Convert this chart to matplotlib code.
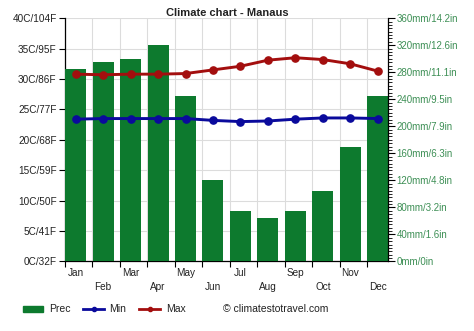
import numpy as np
import matplotlib
matplotlib.use("Agg")
import matplotlib.pyplot as plt
from matplotlib.patches import Rectangle
from matplotlib.lines import Line2D

plt.rcParams['font.family'] = ['Liberation Sans', 'DejaVu Sans']

# Monthly climate data for Manaus
months = ["Jan", "Feb", "Mar", "Apr", "May", "Jun",
          "Jul", "Aug", "Sep", "Oct", "Nov", "Dec"]
prec_mm = [285, 295, 300, 320, 245, 120, 75, 65, 75, 105, 170, 245]
temp_min = [23.4, 23.5, 23.5, 23.5, 23.5, 23.2, 23.0, 23.1, 23.4, 23.6, 23.6, 23.5]
temp_max = [30.8, 30.7, 30.8, 30.8, 30.9, 31.5, 32.1, 33.1, 33.5, 33.2, 32.5, 31.3]

temp_ticks = [0, 5, 10, 15, 20, 25, 30, 35, 40]
temp_labels = ["0C/32F", "5C/41F", "10C/50F", "15C/59F", "20C/68F",
               "25C/77F", "30C/86F", "35C/95F", "40C/104F"]
prec_ticks = [0, 40, 80, 120, 160, 200, 240, 280, 320, 360]
prec_labels = ["0mm/0in", "40mm/1.6in", "80mm/3.2in", "120mm/4.8in",
               "160mm/6.3in", "200mm/7.9in", "240mm/9.5in", "280mm/11.1in",
               "320mm/12.6in", "360mm/14.2in"]

GREEN = "#0d7a2e"
RED = "#a30e0e"
BLUE = "#0a0a9c"
LABEL_GREEN = "#3d8f55"
TEXT = "#222222"
GRID = "#dcdcdc"

fig = plt.figure(figsize=(4.74, 3.31), dpi=100)
rect = [0.137, 0.21, 0.682, 0.735]

x = np.arange(len(months))
x_lo, x_hi = -0.39, 11.38
bounds = np.arange(12) - 0.39

# Temperature axis (left) with the grid
ax_t = fig.add_axes(rect)
ax_t.set_xlim(x_lo, x_hi)
ax_t.set_ylim(0, 40)
ax_t.set_yticks(temp_ticks)
ax_t.set_yticklabels(temp_labels, fontsize=7.2, color=TEXT)
ax_t.set_xticks(bounds)
ax_t.set_xticklabels([])
ax_t.grid(True, color=GRID, linewidth=0.8)
ax_t.set_axisbelow(True)
ax_t.tick_params(axis='y', length=4, width=0.8, pad=2, colors='black', labelcolor=TEXT)
ax_t.tick_params(axis='x', length=4, width=0.8, direction='out')
ax_t.spines["top"].set_visible(False)
ax_t.spines["right"].set_visible(False)
ax_t.spines["left"].set_linewidth(0.9)
ax_t.spines["bottom"].set_linewidth(0.9)

# Month labels on two alternating rows
for i, m in enumerate(months):
    y_off = -0.047 if i % 2 == 0 else -0.105
    ax_t.text(x[i], y_off, m, transform=ax_t.get_xaxis_transform(),
              ha="center", va="center", fontsize=7.2, color=TEXT)

# Precipitation axis (right)
ax_p = ax_t.twinx()
ax_p.set_ylim(0, 360)
ax_p.bar(x, prec_mm, width=0.765, color=GREEN, zorder=2)
ax_p.set_yticks(prec_ticks)
ax_p.set_yticklabels(prec_labels, fontsize=7, color=LABEL_GREEN)
ax_p.set_yticks(np.arange(0, 361, 5), minor=True)
ax_p.tick_params(axis='y', which='major', length=5, width=0.8, pad=1, labelcolor=LABEL_GREEN)
ax_p.tick_params(axis='y', which='minor', length=3, width=0.6)
for side in ("top", "left", "bottom"):
    ax_p.spines[side].set_visible(False)
ax_p.spines["right"].set_linewidth(0.9)
ax_p.set_xlim(x_lo, x_hi)

# Temperature lines drawn on top of the bars
ax_l = fig.add_axes(rect, sharex=ax_t, sharey=ax_t, frameon=False)
ax_l.axis("off")
ax_l.plot(x, temp_max, color=RED, linewidth=2.1, marker="o", markersize=5.2, zorder=3)
ax_l.plot(x, temp_min, color=BLUE, linewidth=2.1, marker="o", markersize=5.2, zorder=3)

# Title
fig.text(0.48, 0.962, "Climate chart - Manaus", ha="center", va="center",
         fontsize=8, fontweight="bold", color=TEXT)

# Legend
ly = 1 - 309 / 331
fig.patches.append(Rectangle((23 / 474, ly - 3.2 / 331), 20 / 474, 6.5 / 331,
                             transform=fig.transFigure, color=GREEN))
fig.text(49 / 474, ly, "Prec", ha="left", va="center", fontsize=7.5, color=TEXT)
fig.lines.append(Line2D([83 / 474, 104 / 474], [ly, ly], transform=fig.transFigure,
                        color=BLUE, linewidth=2))
fig.lines.append(Line2D([93.5 / 474], [ly], transform=fig.transFigure,
                        color=BLUE, marker="o", markersize=3))
fig.text(109 / 474, ly, "Min", ha="left", va="center", fontsize=7.5, color=TEXT)
fig.lines.append(Line2D([139 / 474, 160 / 474], [ly, ly], transform=fig.transFigure,
                        color=RED, linewidth=2))
fig.lines.append(Line2D([149.5 / 474], [ly], transform=fig.transFigure,
                        color=RED, marker="o", markersize=3))
fig.text(166 / 474, ly, "Max", ha="left", va="center", fontsize=7.5, color=TEXT)
fig.text(223 / 474, ly, "\u00a9 climatestotravel.com", ha="left", va="center",
         fontsize=7.5, color=TEXT)

fig.savefig("out.png", dpi=100)
